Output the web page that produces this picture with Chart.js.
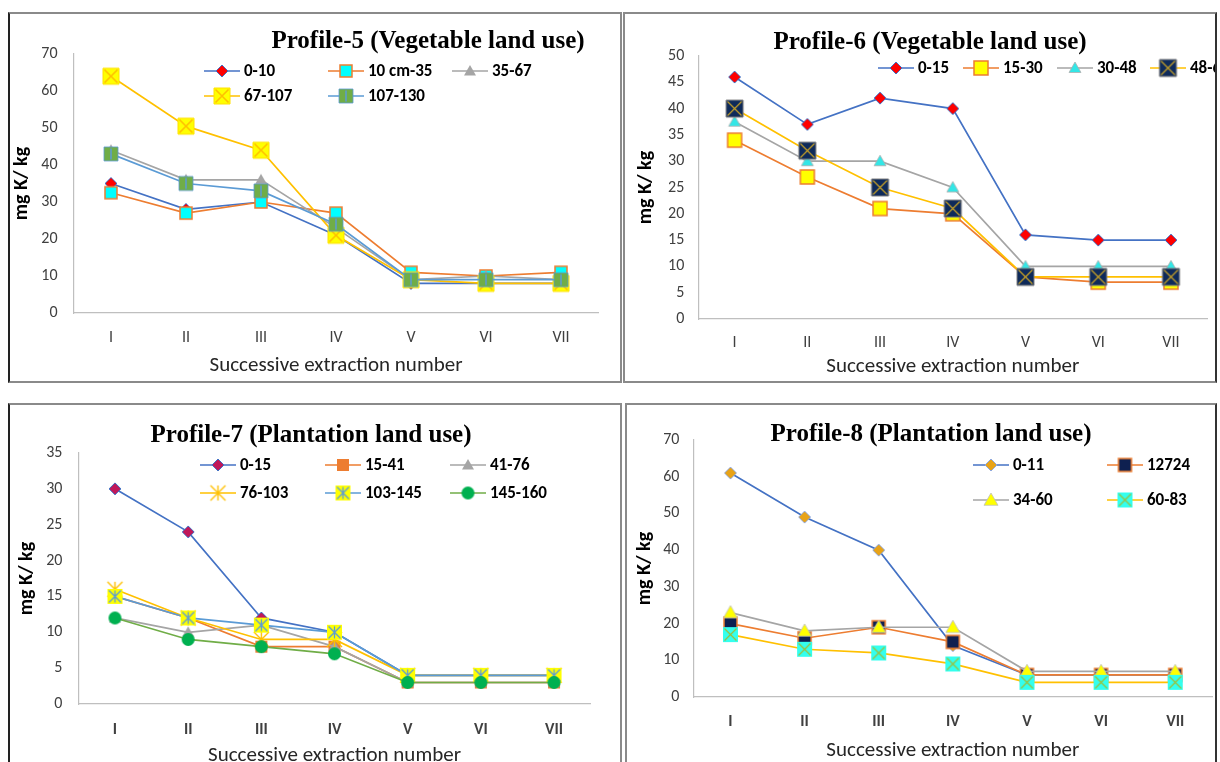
<!DOCTYPE html>
<html><head><meta charset="utf-8">
<script src="https://cdn.jsdelivr.net/npm/chart.js@4.4.1/dist/chart.umd.min.js"></script>
<style>
html,body{margin:0;padding:0;background:#fff;width:1220px;height:762px;overflow:hidden;position:relative}
canvas{position:absolute}
.frame{position:absolute;border:2px solid #8a8a8a;box-sizing:border-box;pointer-events:none}
</style></head><body>
<canvas id="c5" width="609" height="367" style="left:10px;top:14px"></canvas>
<canvas id="c6" width="590" height="367" style="left:625px;top:14px"></canvas>
<canvas id="c7" width="610" height="375" style="left:10px;top:405px"></canvas>
<canvas id="c8" width="593" height="375" style="left:627px;top:405px"></canvas>
<div class="frame" style="left:8px;top:12px;width:614px;height:371px;border-left-color:#222"></div>
<div class="frame" style="left:623px;top:12px;width:594px;height:371px;border-right-color:#333"></div>
<div class="frame" style="left:8px;top:403px;width:614px;height:400px;border-left-color:#222"></div>
<div class="frame" style="left:625px;top:403px;width:592px;height:400px;border-right-color:#333"></div>
<script>
// ---------- DATA ----------
const categories = ['I','II','III','IV','V','VI','VII'];

// Profile-5 (Vegetable land use)
const p5Labels = ['0-10','10 cm-35','35-67','67-107','107-130'];
const p5_s1 = [35, 28, 30, 21, 8, 8, 8];
const p5_s2 = [32.5, 27, 30, 27, 11, 10, 11];
const p5_s3 = [44, 36, 36, 23, 9, 10, 9];
const p5_s4 = [64, 50.5, 44, 21, 9, 8, 8];
const p5_s5 = [43, 35, 33, 24, 9, 9, 9];

// Profile-6 (Vegetable land use)
const p6Labels = ['0-15','15-30','30-48','48-65'];
const p6_s1 = [46, 37, 42, 40, 16, 15, 15];
const p6_s2 = [34, 27, 21, 20, 8, 7, 7];
const p6_s3 = [37.5, 30, 30, 25, 10, 10, 10];
const p6_s4 = [40, 32, 25, 21, 8, 8, 8];

// Profile-7 (Plantation land use)
const p7Labels = ['0-15','15-41','41-76','76-103','103-145','145-160'];
const p7_s1 = [30, 24, 12, 10, 4, 4, 4];
const p7_s2 = [15, 12, 8, 8, 3, 3, 3];
const p7_s3 = [12, 10, 11, 8, 3, 3, 3];
const p7_s4 = [16, 12, 9, 9, 4, 4, 4];
const p7_s5 = [15, 12, 11, 10, 4, 4, 4];
const p7_s6 = [12, 9, 8, 7, 3, 3, 3];

// Profile-8 (Plantation land use)
const p8Labels = ['0-11','12724','34-60','60-83'];
const p8_s1 = [61, 49, 40, 14, 6, 6, 6];
const p8_s2 = [20, 16, 19, 15, 6, 6, 6];
const p8_s3 = [23, 18, 19, 19, 7, 7, 7];
const p8_s4 = [17, 13, 12, 9, 4, 4, 4];

const yTitle = 'mg K/ kg';
const xTitle = 'Successive extraction number';

// ---------- STYLE ----------
const SANS = 'Carlito, Lato, "Liberation Sans", sans-serif';
Chart.defaults.font.family = SANS;
const C = {blue:'#4472C4', orange:'#ED7D31', gray:'#A5A5A5', gold:'#FFC000', lblue:'#5B9BD5', green:'#70AD47'};

function marker(o) {
  const s = o.size, pad = 2, W = Math.ceil(s + pad * 2);
  const c = document.createElement('canvas'); c.width = c.height = W;
  const g = c.getContext('2d'); const m = W / 2, h = s / 2;
  g.beginPath();
  if (o.shape === 'square') g.rect(m - h, m - h, s, s);
  else if (o.shape === 'diamond') { g.moveTo(m, m - h); g.lineTo(m + h, m); g.lineTo(m, m + h); g.lineTo(m - h, m); g.closePath(); }
  else if (o.shape === 'triangle') { g.moveTo(m, m - h); g.lineTo(m + h, m + h * 0.75); g.lineTo(m - h, m + h * 0.75); g.closePath(); }
  else if (o.shape === 'circle') g.arc(m, m, h, 0, 2 * Math.PI);
  if (o.fill) { g.fillStyle = o.fill; g.fill(); }
  if (o.stroke) { g.strokeStyle = o.stroke; g.lineWidth = o.lw || 1; g.stroke(); }
  if (o.inner) {
    g.strokeStyle = o.innerColor; g.lineWidth = o.innerLw || 1.2;
    const k = h - (o.innerInset == null ? 1.5 : o.innerInset);
    g.beginPath();
    if (o.inner.includes('x')) { g.moveTo(m - k, m - k); g.lineTo(m + k, m + k); g.moveTo(m + k, m - k); g.lineTo(m - k, m + k); }
    if (o.inner.includes('v')) { g.moveTo(m, m - k); g.lineTo(m, m + k); }
    g.stroke();
  }
  return c;
}

function overlay(title, tx, ty, legendPos) {
  return {
    id: 'overlay',
    afterDraw(chart) {
      const ctx = chart.ctx;
      ctx.save();
      ctx.fillStyle = '#000';
      ctx.font = 'bold 25px "Liberation Serif", "DejaVu Serif", serif';
      ctx.textAlign = 'center'; ctx.textBaseline = 'middle';
      ctx.fillText(title, tx, ty);
      ctx.font = 'bold 17px ' + SANS;
      ctx.textAlign = 'left';
      chart.data.datasets.forEach((ds, i) => {
        const [x, y] = legendPos[i];
        ctx.strokeStyle = ds.borderColor; ctx.lineWidth = ds.borderWidth;
        ctx.beginPath(); ctx.moveTo(x, y); ctx.lineTo(x + 36, y); ctx.stroke();
        const st = ds.pointStyle;
        ctx.drawImage(st, x + 18 - st.width / 2, y - st.height / 2);
        ctx.fillStyle = '#000'; ctx.fillText(ds.label, x + 40, y + 1);
      });
      ctx.restore();
    }
  };
}

function build(id, p) {
  const datasets = p.series.map((s, i) => ({
    label: p.labels[i], data: s.data, borderColor: s.color, backgroundColor: s.color,
    borderWidth: 1.7, pointStyle: s.marker, pointRadius: 6, pointHoverRadius: 6,
    tension: 0, order: -i
  }));
  new Chart(document.getElementById(id), {
    type: 'line',
    data: { labels: categories, datasets },
    options: {
      responsive: false, animation: false, devicePixelRatio: 1,
      layout: { padding: { top: p.padTop, right: p.padRight, left: 0, bottom: 0 } },
      plugins: { legend: { display: false }, tooltip: { enabled: false } },
      scales: {
        x: {
          type: 'category', offset: true,
          grid: { display: false, drawTicks: false },
          border: { display: true, color: '#BFBFBF', width: 1.2 },
          ticks: { padding: p.xTickPad, color: '#404040', font: { size: 16, weight: p.xBold ? 'bold' : 'normal' } },
          title: { display: true, text: xTitle, color: '#262626', font: { size: 21 }, padding: { top: 0, bottom: p.xTitlePad } },
          afterFit: s => { s.height = p.xH; }
        },
        y: {
          min: 0, max: p.yMax,
          grid: { display: false, drawTicks: false },
          border: { display: true, color: '#BFBFBF', width: 1.2 },
          ticks: { stepSize: p.yStep, padding: p.yTickPad, color: '#404040', font: { size: 16 } },
          title: { display: true, text: yTitle, color: '#000', font: { size: 20, weight: 'bold' }, padding: { top: p.yTitlePad, bottom: 0 } },
          afterFit: s => { s.width = p.yW; }
        }
      }
    },
    plugins: [overlay(p.title, p.tx, p.ty, p.legendPos)]
  });
}

build('c5', {
  title: 'Profile-5 (Vegetable land use)', tx: 418, ty: 28,
  labels: p5Labels, yMax: 70, yStep: 10, xBold: false,
  padTop: 40, padRight: 20.5, yW: 63.5, xH: 68, yTickPad: 16, xTickPad: 15, xTitlePad: 2.4, yTitlePad: 0,
  legendPos: [[194, 57], [318, 57], [442, 57], [194, 82], [318, 82]],
  series: [
    { data: p5_s1, color: C.blue, marker: marker({shape:'diamond', size:12, fill:'#FF0000', stroke:C.blue, lw:1}) },
    { data: p5_s2, color: C.orange, marker: marker({shape:'square', size:12, fill:'#00FFFF', stroke:C.orange, lw:1.5}) },
    { data: p5_s3, color: C.gray, marker: marker({shape:'triangle', size:12, fill:C.gray}) },
    { data: p5_s4, color: C.gold, marker: marker({shape:'square', size:16, fill:'#FFFF00', stroke:'#FFE000', lw:1, inner:'x', innerColor:C.gold, innerLw:1.6}) },
    { data: p5_s5, color: C.lblue, marker: marker({shape:'square', size:14, fill:C.green, stroke:C.lblue, lw:0.8, inner:'v', innerColor:C.lblue, innerLw:1.5}) }
  ]
});

build('c6', {
  title: 'Profile-6 (Vegetable land use)', tx: 305, ty: 29,
  labels: p6Labels, yMax: 50, yStep: 5, xBold: false,
  padTop: 42, padRight: 2.25, yW: 73.25, xH: 62, yTickPad: 14, xTickPad: 14, xTitlePad: 1.4, yTitlePad: 9,
  legendPos: [[253, 54], [338, 54], [432, 54], [525, 54]],
  series: [
    { data: p6_s1, color: C.blue, marker: marker({shape:'diamond', size:12, fill:'#FF0000', stroke:C.blue, lw:1}) },
    { data: p6_s2, color: C.orange, marker: marker({shape:'square', size:14, fill:'#FFFF00', stroke:C.orange, lw:1.5}) },
    { data: p6_s3, color: C.gray, marker: marker({shape:'triangle', size:12, fill:'#33E6E6', stroke:'#B0B0B0', lw:0.8}) },
    { data: p6_s4, color: C.gold, marker: marker({shape:'square', size:17, fill:'#0E2A5A', stroke:'#7F7F7F', lw:1, inner:'x', innerColor:'#C9A227', innerLw:1.2}) }
  ]
});

build('c7', {
  title: 'Profile-7 (Plantation land use)', tx: 301, ty: 31,
  labels: p7Labels, yMax: 35, yStep: 5, xBold: true,
  padTop: 48, padRight: 29.4, yW: 68.4, xH: 76, yTickPad: 16, xTickPad: 16, xTitlePad: 11.4, yTitlePad: 5,
  legendPos: [[190, 60], [315, 60], [440, 60], [190, 88], [315, 88], [440, 88]],
  series: [
    { data: p7_s1, color: C.blue, marker: marker({shape:'diamond', size:12, fill:'#C0185A', stroke:C.blue, lw:1}) },
    { data: p7_s2, color: C.orange, marker: marker({shape:'square', size:12, fill:C.orange}) },
    { data: p7_s3, color: C.gray, marker: marker({shape:'triangle', size:12, fill:C.gray}) },
    { data: p7_s4, color: C.gold, marker: marker({shape:'none', size:15, inner:'xv', innerColor:C.gold, innerLw:1.4, innerInset:0}) },
    { data: p7_s5, color: C.lblue, marker: marker({shape:'square', size:15, fill:'#FFFF00', inner:'xv', innerColor:C.lblue, innerLw:1.3}) },
    { data: p7_s6, color: C.green, marker: marker({shape:'circle', size:13, fill:'#00B050'}) }
  ]
});

build('c8', {
  title: 'Profile-8 (Plantation land use)', tx: 304, ty: 30,
  labels: p8Labels, yMax: 70, yStep: 10, xBold: true,
  padTop: 35, padRight: 0.4, yW: 66.4, xH: 83, yTickPad: 14, xTickPad: 15, xTitlePad: 16.4, yTitlePad: 6,
  legendPos: [[346, 60], [480, 60], [346, 95], [480, 95]],
  series: [
    { data: p8_s1, color: C.blue, marker: marker({shape:'diamond', size:12, fill:'#E8A317', stroke:'#8FA8DC', lw:1}) },
    { data: p8_s2, color: C.orange, marker: marker({shape:'square', size:13, fill:'#0E2050', stroke:C.orange, lw:1.5}) },
    { data: p8_s3, color: C.gray, marker: marker({shape:'triangle', size:14, fill:'#FFFF00', stroke:'#BFBFBF', lw:0.8}) },
    { data: p8_s4, color: C.gold, marker: marker({shape:'square', size:15, fill:'#33FFEE', inner:'x', innerColor:'#9CC03A', innerLw:1.2}) }
  ]
});
</script>
</body></html>
